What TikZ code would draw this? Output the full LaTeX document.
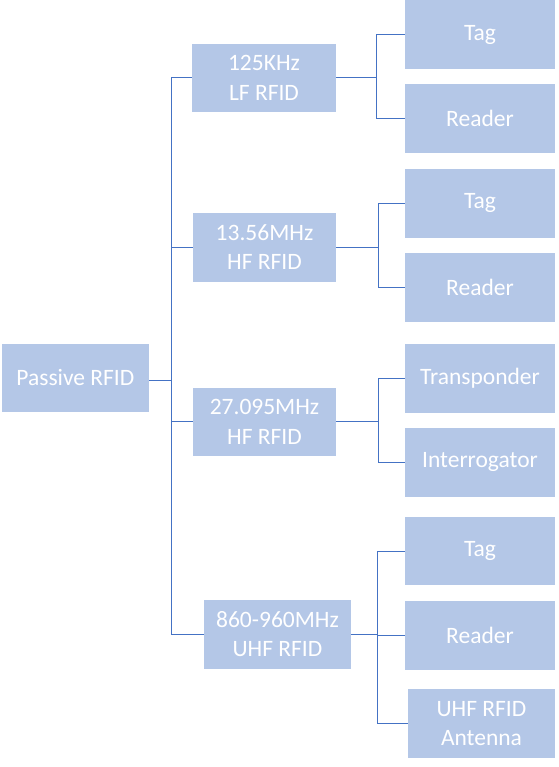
\documentclass[tikz,border=0pt]{standalone}
\usepackage{xcolor}
\usepackage{fontspec}
\setmainfont{Carlito}
\usepackage{tikz}
\definecolor{boxblue}{RGB}{180,199,231}
\definecolor{lineblue}{RGB}{68,114,196}

\begin{document}
\begin{tikzpicture}[x=1pt, y=-1pt,
    box/.style={fill=boxblue, text=white, inner sep=0pt, align=center,
        font=\fontsize{23.5}{29.3}\selectfont},
    link/.style={lineblue, line width=1pt}]
            \useasboundingbox (0,0) rectangle (558,767);
            % root and the four bands
            \node[box, minimum width=147pt, minimum height=68pt] (passive) at (75.4,377.8) {Passive RFID};
            \node[box, minimum width=144pt, minimum height=68pt] (lf) at (264,77.9) {125KHz\\LF RFID};
            \node[box, minimum width=143pt, minimum height=68.5pt] (hfa) at (264.5,247.3) {13.56MHz\\HF RFID};
            \node[box, minimum width=143pt, minimum height=68pt] (hfb) at (264.5,421.8) {27.095MHz\\HF RFID};
            \node[box, minimum width=147pt, minimum height=68.5pt] (uhf) at (277.5,634.4) {860-960MHz\\UHF RFID};
            % leaves
            \node[box, minimum width=150pt, minimum height=69pt] (tagA) at (480,34.5) {Tag};
            \node[box, minimum width=150pt, minimum height=68.5pt] (readerA) at (480,118.3) {Reader};
            \node[box, minimum width=150pt, minimum height=68.5pt] (tagB) at (480,203.3) {Tag};
            \node[box, minimum width=150pt, minimum height=68.5pt] (readerB) at (480,287.5) {Reader};
            \node[box, minimum width=150pt, minimum height=68.5pt] (transp) at (480,378.5) {Transponder};
            \node[box, minimum width=150pt, minimum height=68.5pt] (interr) at (480,462.3) {Interrogator};
            \node[box, minimum width=150pt, minimum height=68pt] (tagC) at (480,551) {Tag};
            \node[box, minimum width=150pt, minimum height=68.5pt] (readerC) at (480,635.3) {Reader};
            \node[box, minimum width=147pt, minimum height=68.5pt] (antenna) at (481.5,723.3) {UHF RFID\\Antenna};
            % connectors
            \coordinate (trunk) at (171,0);
            \coordinate (elbowA) at (376,0);
            \coordinate (elbowB) at (378,0);
            \coordinate (elbowC) at (378,0);
            \coordinate (elbowD) at (377,0);
            \draw[link] ([yshift=-3pt]passive.east) -- ([yshift=-3pt]passive.east -| trunk);
            \draw[link] (lf.west -| trunk) -- (uhf.west -| trunk);
            \foreach \m in {lf, hfa, hfb, uhf}
            \draw[link] (\m.west -| trunk) -- (\m.west);
            \foreach \m/\e/\first/\last in {lf/elbowA/tagA/readerA, hfa/elbowB/tagB/readerB, hfb/elbowC/transp/interr, uhf/elbowD/tagC/antenna}
            {
            \draw[link] (\m.east) -- (\m.east -| \e);
            \draw[link] (\first.west -| \e) -- (\last.west -| \e);
            }
            \foreach \e/\l in {elbowA/tagA, elbowA/readerA, elbowB/tagB, elbowB/readerB, elbowC/transp, elbowC/interr, elbowD/tagC, elbowD/readerC, elbowD/antenna}
            \draw[link] (\l.west -| \e) -- (\l.west);
        \end{tikzpicture}
\end{document}
